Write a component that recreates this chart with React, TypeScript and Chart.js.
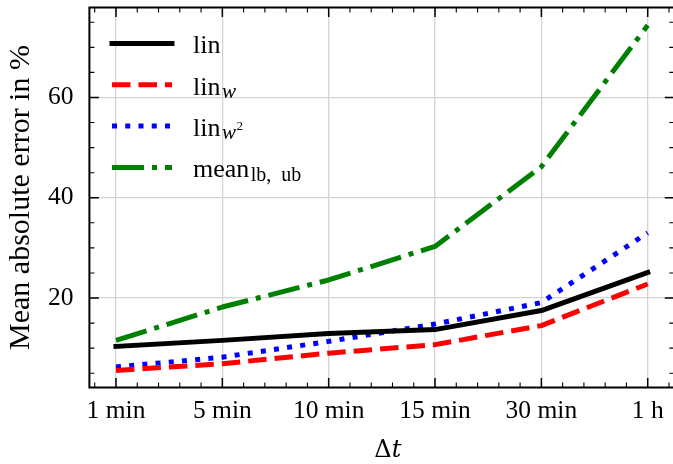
import React, { useEffect, useRef } from "react";
import { Chart, registerables } from "chart.js";

Chart.register(...registerables);

// ---- data ----
const categories = ["1 min", "5 min", "10 min", "15 min", "30 min", "1 h"];
const linValues = [10.35, 11.55, 12.9, 13.7, 17.5, 25.1];
const linWValues = [5.56, 6.9, 9.0, 10.7, 14.5, 22.8];
const linW2Values = [6.24, 8.2, 11.35, 14.8, 19.1, 33.0];
const meanValues = [11.55, 18.2, 23.6, 30.3, 46.2, 74.4];
const yMajorTicks = [20, 40, 60];

// legend label pieces: base text, subscript, subscript italic?, superscript on subscript
const legendBase = ["lin", "lin", "lin", "mean"];
const legendSub = ["", "w", "w", "lb, ub"];
const legendSubItalic = [false, true, true, false];
const legendSup = ["", "", "2", ""];

const yTitle = "Mean absolute error in %";
const xTitleUpright = "Δ";
const xTitleItalic = "t";

const SERIF = "'Liberation Serif', 'Times New Roman', serif";
const MATH = "'DejaVu Serif', serif";

const W = 680;
const H = 464;

const framePlugin = {
  id: "frame",
  afterDatasetsDraw(chart: any) {
    const { ctx, chartArea } = chart;
    const { left, right, top, bottom } = chartArea;
    const xs = chart.scales.x;
    const ys = chart.scales.y;
    ctx.save();
    ctx.strokeStyle = "#000";
    const majL = 9.5;
    const minL = 5;
    ctx.lineWidth = 1.5;
    categories.forEach((_, i) => {
      const px = xs.getPixelForValue(i);
      ctx.beginPath();
      ctx.moveTo(px, bottom);
      ctx.lineTo(px, bottom - majL);
      ctx.moveTo(px, top);
      ctx.lineTo(px, top + majL);
      ctx.stroke();
    });
    yMajorTicks.forEach((v) => {
      const py = ys.getPixelForValue(v);
      ctx.beginPath();
      ctx.moveTo(left, py);
      ctx.lineTo(left + majL, py);
      ctx.moveTo(right, py);
      ctx.lineTo(right - majL, py);
      ctx.stroke();
    });
    ctx.lineWidth = 1.1;
    for (let k = -1; k <= 26; k++) {
      if (k % 5 === 0) continue;
      const v = k * 0.2;
      if (v < xs.min || v > xs.max) continue;
      const px = xs.getPixelForValue(v);
      ctx.beginPath();
      ctx.moveTo(px, bottom);
      ctx.lineTo(px, bottom - minL);
      ctx.moveTo(px, top);
      ctx.lineTo(px, top + minL);
      ctx.stroke();
    }
    for (let v = 5; v <= 75; v += 5) {
      if (v % 20 === 0) continue;
      if (v < ys.min || v > ys.max) continue;
      const py = ys.getPixelForValue(v);
      ctx.beginPath();
      ctx.moveTo(left, py);
      ctx.lineTo(left + minL, py);
      ctx.moveTo(right, py);
      ctx.lineTo(right - minL, py);
      ctx.stroke();
    }
    ctx.lineWidth = 2;
    ctx.strokeRect(left, top, right - left, bottom - top);

    // legend
    const rowY0 = 43.5;
    const rowStep = 41.3;
    const x0 = 112;
    const x1 = 172;
    const tx = 193;
    chart.data.datasets.forEach((ds: any, i: number) => {
      const y = rowY0 + i * rowStep;
      ctx.save();
      ctx.strokeStyle = ds.borderColor;
      ctx.lineWidth = ds.borderWidth;
      ctx.setLineDash(ds.borderDash || []);
      ctx.lineCap = ds.borderCapStyle || "butt";
      ctx.beginPath();
      ctx.moveTo(x0, y);
      ctx.lineTo(x1, y);
      ctx.stroke();
      ctx.restore();
      const base = y + 9.8;
      ctx.fillStyle = "#000";
      ctx.textBaseline = "alphabetic";
      ctx.textAlign = "left";
      ctx.font = `26px ${SERIF}`;
      ctx.fillText(legendBase[i], tx, base);
      let cx = tx + ctx.measureText(legendBase[i]).width + 1.5;
      if (legendSub[i]) {
        ctx.font = `${legendSubItalic[i] ? "italic " : ""}${legendSubItalic[i] ? 21 : 20}px ${SERIF}`;
        const parts = legendSub[i].split(" ");
        parts.forEach((p, j) => {
          ctx.fillText(p, cx, base + 3.5);
          cx += ctx.measureText(p).width + (j < parts.length - 1 ? 10 : 0.5);
        });
      }
      if (legendSup[i]) {
        ctx.font = `13px ${SERIF}`;
        ctx.fillText(legendSup[i], cx, base - 6);
      }
    });

    // x-axis title
    const fs = 24;
    ctx.font = `${fs}px ${MATH}`;
    const wD = ctx.measureText(xTitleUpright).width;
    ctx.font = `italic ${fs}px ${MATH}`;
    const wT = ctx.measureText(xTitleItalic).width;
    const cxT = (left + right) / 2 + 6;
    const sx = cxT - (wD + wT) / 2;
    ctx.font = `${fs}px ${MATH}`;
    ctx.fillText(xTitleUpright, sx, 456.5);
    ctx.font = `italic ${fs}px ${MATH}`;
    ctx.fillText(xTitleItalic, sx + wD, 456.5);
    ctx.restore();
  },
};

const zeroPad = (s: any) => {
  s.paddingTop = 0;
  s.paddingBottom = 0;
  s.paddingLeft = 0;
  s.paddingRight = 0;
};

export default function App() {
  const ref = useRef<HTMLCanvasElement | null>(null);
  useEffect(() => {
    if (!ref.current) return;
    const mk = (vals: number[]) => vals.map((v, i) => ({ x: i, y: v }));
    const base = {
      borderWidth: 5,
      borderJoinStyle: "round",
      pointRadius: 0,
      tension: 0,
      fill: false,
    };
    const chart = new Chart(ref.current, {
      type: "line",
      data: {
        datasets: [
          { ...base, label: "lin", data: mk(linValues), borderColor: "#000000", borderDash: [], borderCapStyle: "square" },
          { ...base, label: "lin_w", data: mk(linWValues), borderColor: "#ff0000", borderDash: [18.5, 8], borderCapStyle: "butt" },
          { ...base, label: "lin_w2", data: mk(linW2Values), borderColor: "#0000ff", borderDash: [5, 8.25], borderCapStyle: "butt" },
          { ...base, label: "mean_lb,ub", data: mk(meanValues), borderColor: "#008000", borderDash: [32, 8, 5, 8], borderCapStyle: "butt" },
        ] as any,
      },
      options: {
        responsive: false,
        animation: false,
        maintainAspectRatio: false,
        devicePixelRatio: 1,
        layout: { autoPadding: false, padding: { left: 0, top: 7.5, right: W - 674.3, bottom: 0 } },
        plugins: {
          legend: { display: false },
          tooltip: { enabled: false },
        },
        scales: {
          x: {
            type: "linear",
            min: -0.25,
            max: 5.25,
            afterBuildTicks: (s: any) => {
              s.ticks = categories.map((_, i) => ({ value: i }));
            },
            afterFit: (s: any) => {
              s.height = H - 387.5;
              zeroPad(s);
            },
            ticks: {
              autoSkip: false,
              maxRotation: 0,
              minRotation: 0,
              padding: 8.5,
              color: "#000",
              font: { family: SERIF, size: 25.5 },
              callback: (v: any) => categories[Math.round(Number(v))] ?? "",
            },
            grid: { color: "#d4d4d4", lineWidth: 1.3, drawTicks: false },
            border: { display: false },
          },
          y: {
            type: "linear",
            min: 2.15,
            max: 77.95,
            afterBuildTicks: (s: any) => {
              s.ticks = yMajorTicks.map((v) => ({ value: v }));
            },
            afterFit: (s: any) => {
              s.width = 89.4;
              zeroPad(s);
            },
            ticks: {
              padding: 16,
              color: "#000",
              font: { family: SERIF, size: 25.5 },
            },
            grid: { color: "#d4d4d4", lineWidth: 1.3, drawTicks: false },
            border: { display: false },
            title: {
              display: true,
              text: yTitle,
              color: "#000",
              font: { family: SERIF, size: 30 },
              padding: { top: 3.6, bottom: 0 },
            },
          },
        },
      } as any,
      plugins: [framePlugin],
    });
    return () => chart.destroy();
  }, []);
  return (
    <div style={{ position: "fixed", left: 0, top: 0, width: W, height: H, background: "#fff" }}>
      <canvas ref={ref} width={W} height={H} style={{ width: W, height: H, display: "block" }} />
    </div>
  );
}
